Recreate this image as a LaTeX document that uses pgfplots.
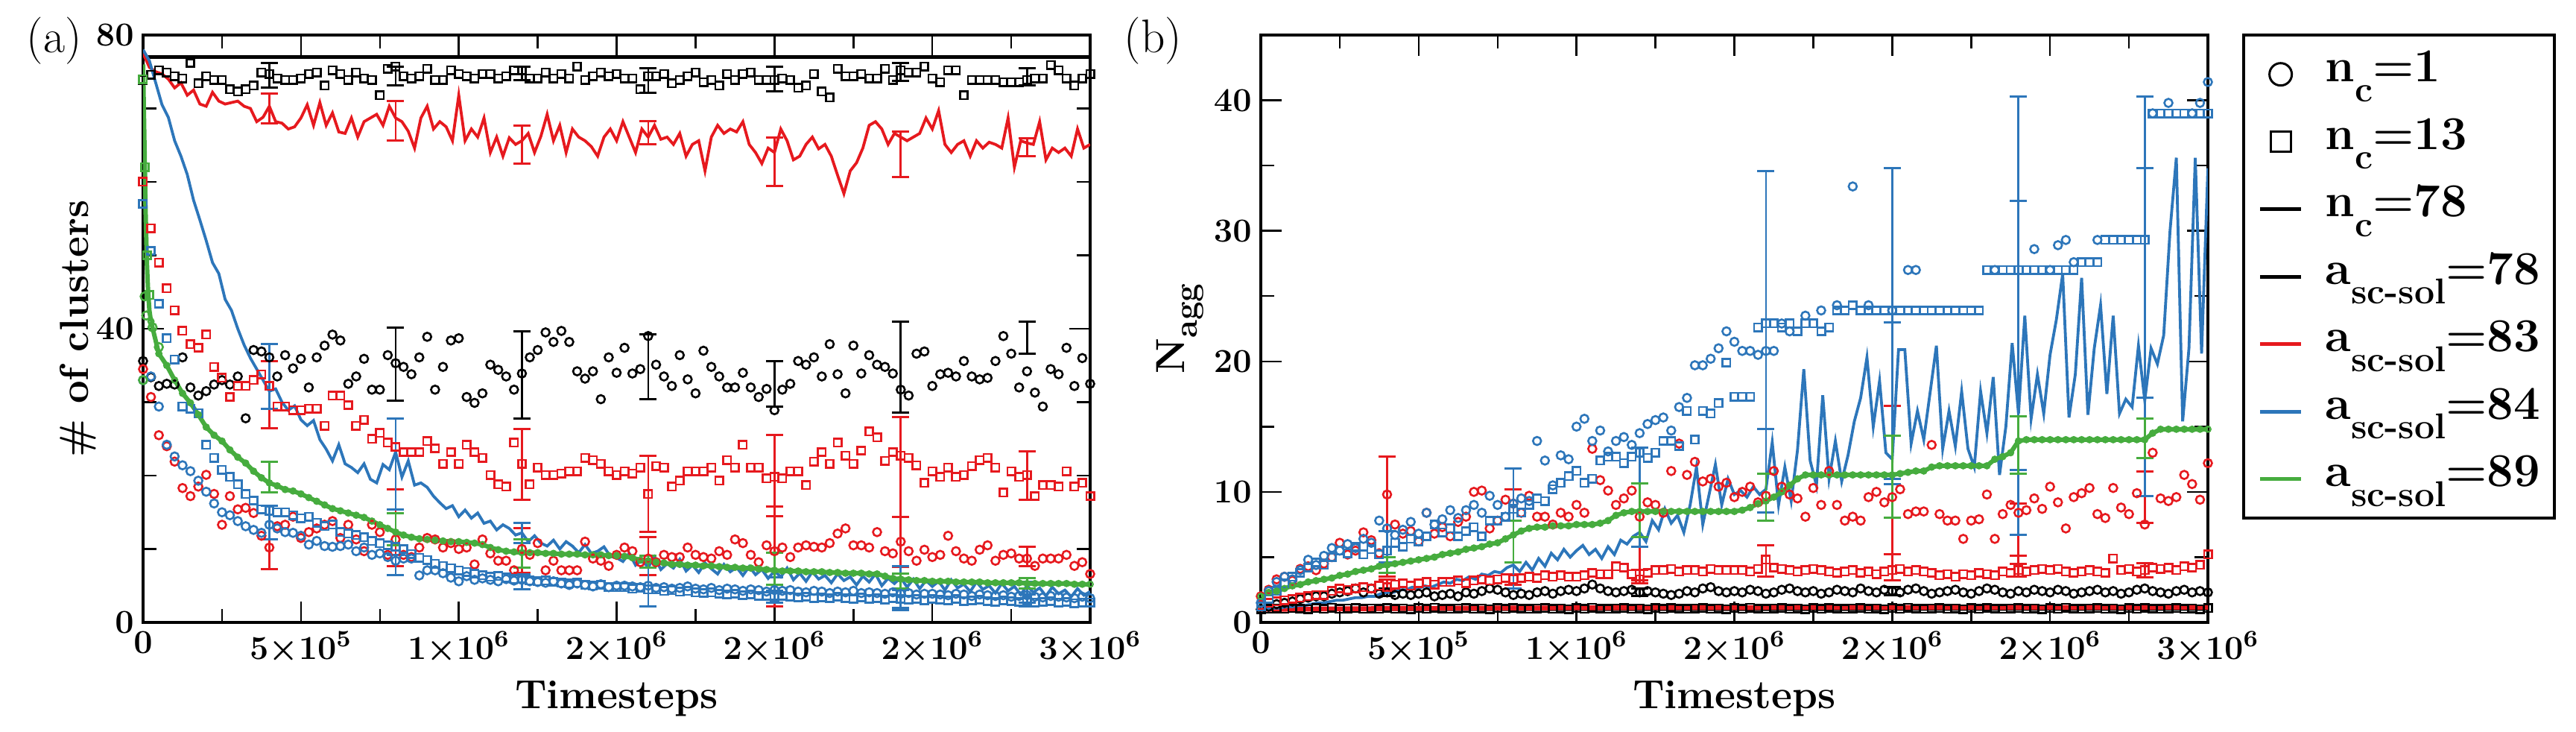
\RequirePackage{fix-cm}
\documentclass[border=0pt]{standalone}
\usepackage{pgfplots}
\usepackage{pgfplotstable}
\pgfplotsset{compat=1.18}

\definecolor{cred}{RGB}{230,25,30}
\definecolor{cblue}{RGB}{45,118,186}
\definecolor{cgreen}{RGB}{70,172,62}

\newcommand{\lsub}[1]{\raisebox{-0.42em}{\fontsize{13.7}{14}\selectfont #1}}

% (a) number of clusters, t in units of 1e6 timesteps
% bsq/bci: a=78, n_c=13/1; rsq/rci: a=83; bls/blc: a=84; grn: a=89
\pgfplotstableread{
t bsq bci rsq rci bls blc grn
0.000 73.9 35.6 60.0 34.5 57.0 33.0 nan
0.025 74.6 33.4 53.7 30.7 50.6 33.5 41.0
0.050 75.2 32.2 49.0 25.5 43.4 29.4 36.6
0.075 74.9 32.5 45.5 24.0 38.7 24.2 35.0
0.100 74.4 32.4 42.5 21.9 35.8 22.6 33.0
0.125 74.1 36.1 39.7 18.3 29.4 21.4 31.2
0.150 76.2 32.0 37.9 17.2 29.1 20.6 29.9
0.175 73.4 30.9 37.4 18.5 28.5 19.3 28.3
0.200 74.4 31.5 39.2 20.1 24.2 17.8 26.6
0.225 73.9 32.4 34.8 17.5 22.4 16.2 25.5
0.250 73.9 33.0 33.3 13.3 20.8 15.0 24.7
0.275 72.6 32.4 30.7 17.2 19.8 14.6 23.5
0.300 72.3 33.5 32.2 15.4 18.8 13.8 22.5
0.325 72.6 27.8 32.2 15.6 17.5 13.1 21.7
0.350 73.1 37.1 33.0 14.9 16.6 12.6 20.6
0.375 74.9 36.9 33.8 11.8 15.4 12.2 19.7
0.400 74.7 36.1 32.2 10.2 15.2 13.3 19.0
0.425 74.1 33.5 29.4 13.1 15.0 12.8 18.6
0.450 73.9 36.4 29.4 13.3 15.0 12.3 18.1
0.475 73.9 34.6 28.9 14.4 14.6 12.2 17.9
0.500 74.1 35.9 28.9 11.5 14.2 11.8 17.5
0.525 74.7 32.0 29.1 12.3 14.4 10.6 17.0
0.550 74.9 36.1 29.1 12.8 13.6 11.1 16.5
0.575 73.1 37.7 26.8 13.3 13.1 10.4 16.0
0.600 75.2 39.2 30.9 13.8 13.3 10.3 15.5
0.625 74.7 38.4 30.9 11.5 12.3 10.4 15.2
0.650 73.9 32.5 29.6 13.3 12.1 10.6 14.9
0.675 74.9 33.5 26.8 11.3 11.9 9.7 14.6
0.700 74.1 35.9 27.6 9.7 11.6 10.2 14.3
0.725 73.9 31.7 25.0 13.3 11.1 9.2 13.8
0.750 71.8 31.7 25.8 12.3 10.8 9.4 13.3
0.775 75.4 36.4 24.5 9.2 10.5 8.9 12.8
0.800 75.7 35.3 23.9 11.3 10.3 8.4 12.3
0.825 74.4 34.8 23.2 9.2 10.0 8.7 11.9
0.850 74.1 33.8 23.2 8.9 9.3 8.7 11.6
0.875 74.4 36.1 23.2 10.2 8.8 6.4 11.4
0.900 75.4 38.9 24.7 11.5 8.5 7.1 11.3
0.925 73.9 31.7 23.7 11.3 8.0 7.1 11.2
0.950 73.9 34.8 21.6 10.2 7.7 6.7 11.1
0.975 75.2 38.4 23.2 10.8 7.4 6.1 11.0
1.000 74.7 38.7 21.6 10.0 7.1 5.6 11.0
1.025 74.4 30.7 24.2 10.2 6.9 6.3 10.9
1.050 74.1 29.9 23.2 7.9 6.6 5.8 10.8
1.075 74.7 31.2 22.4 11.3 6.4 6.0 10.6
1.100 74.7 35.1 20.1 9.4 6.2 5.8 10.2
1.125 74.1 34.4 18.8 8.4 6.3 5.6 9.9
1.150 74.4 33.5 18.5 8.4 6.1 5.9 9.7
1.175 75.2 31.7 24.5 7.1 5.9 5.7 9.6
1.200 75.2 33.9 21.6 10.0 6.0 5.8 9.5
1.225 74.1 36.1 18.8 9.2 5.7 5.6 9.5
1.250 74.1 37.1 21.1 10.8 5.6 5.5 9.5
1.275 74.9 39.5 20.1 7.1 5.7 5.4 9.4
1.300 74.1 38.2 20.1 8.4 5.5 5.6 9.4
1.325 74.7 39.7 20.3 7.1 5.4 5.3 9.3
1.350 74.1 38.2 20.6 7.1 5.3 5.1 9.3
1.375 75.7 34.2 20.6 7.1 5.4 5.3 9.3
1.400 73.9 33.2 22.4 11.0 5.1 5.1 9.2
1.425 74.4 34.2 22.1 8.7 5.0 4.9 9.2
1.450 74.9 30.4 21.6 8.4 5.1 5.2 9.2
1.475 74.4 36.1 20.6 7.7 4.8 4.8 9.1
1.500 74.7 34.0 20.1 9.2 4.8 5.0 9.1
1.525 74.1 37.4 20.6 10.2 4.8 5.0 9.0
1.550 74.1 33.9 20.3 9.7 4.6 4.9 8.8
1.575 72.6 34.5 21.1 8.2 4.7 4.8 8.5
1.600 74.4 39.0 17.5 8.7 4.5 5.0 8.4
1.625 74.4 35.1 21.3 8.2 4.5 4.7 8.2
1.650 74.7 33.5 21.1 9.2 4.3 4.8 8.1
1.675 73.4 32.2 18.5 8.9 4.4 4.6 7.9
1.700 73.9 36.4 19.3 8.9 4.2 4.7 7.9
1.725 74.4 33.1 20.6 10.2 4.3 4.9 7.8
1.750 74.9 31.2 20.6 9.2 4.1 4.6 7.8
1.775 73.6 37.0 20.6 8.9 4.0 4.5 7.7
1.800 73.9 34.8 21.1 8.7 4.1 4.7 7.7
1.825 73.1 33.5 19.3 9.7 3.9 4.4 7.6
1.850 74.7 32.0 22.1 9.2 3.8 4.6 7.5
1.875 73.9 32.0 21.1 11.3 3.9 4.5 7.5
1.900 74.7 34.0 24.2 10.8 3.7 4.3 7.4
1.925 74.9 32.0 21.1 9.2 3.8 4.5 7.4
1.950 73.9 30.7 21.1 8.2 3.6 4.4 7.3
1.975 73.9 31.8 19.6 10.5 3.6 4.2 7.2
2.000 73.9 28.9 19.8 9.7 3.5 4.4 7.1
2.025 74.1 31.7 19.6 10.2 3.6 4.3 7.0
2.050 73.9 32.5 20.6 8.9 3.5 4.4 7.0
2.075 72.8 35.6 20.6 10.2 3.4 4.2 7.0
2.100 73.1 35.1 18.7 10.5 3.5 4.1 6.9
2.125 74.7 36.1 21.9 10.3 3.3 4.3 6.9
2.150 72.3 33.5 23.2 10.2 3.4 4.2 6.9
2.175 71.5 37.9 21.6 10.8 3.3 4.0 6.8
2.200 75.4 33.8 24.5 12.1 3.5 4.2 6.8
2.225 74.4 31.2 22.7 12.8 3.3 4.1 6.7
2.250 74.4 37.7 21.6 10.5 3.2 4.3 6.7
2.275 74.7 33.9 23.4 10.5 3.4 4.0 6.7
2.300 74.1 36.4 26.0 10.2 3.2 4.1 6.6
2.325 74.1 35.1 25.2 12.3 3.3 4.0 6.6
2.350 75.4 34.8 22.0 9.7 3.1 3.9 6.3
2.375 73.9 33.9 23.2 9.4 3.3 4.1 6.0
2.400 75.2 31.7 22.7 11.0 3.2 3.9 5.9
2.425 74.9 30.9 22.4 9.7 3.1 4.0 5.8
2.450 74.9 36.6 21.4 8.4 3.2 3.8 5.7
2.475 75.7 36.9 19.0 9.9 3.0 3.9 5.7
2.500 74.1 32.2 20.6 8.9 3.2 3.9 5.6
2.525 73.6 33.8 19.8 9.2 3.1 3.8 5.6
2.550 75.2 34.0 21.1 11.8 3.0 3.7 5.6
2.575 75.2 33.5 19.8 9.7 3.2 3.9 5.5
2.600 71.8 35.6 20.1 8.7 2.9 3.8 5.5
2.625 73.9 33.5 21.3 8.4 3.0 3.6 5.5
2.650 73.9 33.1 22.1 9.9 3.1 3.8 5.5
2.675 73.9 33.3 22.4 10.5 2.9 3.7 5.4
2.700 73.9 35.6 21.1 8.4 2.8 3.6 5.4
2.725 73.6 39.0 17.7 9.2 3.0 3.7 5.4
2.750 73.6 36.6 20.6 9.4 2.9 3.5 5.4
2.775 73.6 32.0 19.8 8.7 2.8 3.6 5.4
2.800 73.9 34.2 20.1 8.7 3.0 3.7 5.3
2.825 74.1 31.3 17.2 7.7 2.7 3.5 5.3
2.850 74.1 29.4 18.7 8.7 2.8 3.4 5.3
2.875 75.9 34.5 18.7 8.7 2.9 3.6 5.3
2.900 75.2 33.8 18.5 8.7 2.7 3.5 5.3
2.925 74.1 37.4 20.6 9.2 2.8 3.4 5.3
2.950 73.1 32.2 18.5 7.7 2.6 3.3 5.2
2.975 74.1 36.0 19.0 8.2 2.7 3.5 5.2
3.000 74.7 32.5 17.2 6.6 2.7 3.3 5.2
}\tabA

% (b) aggregation number, same column layout
\pgfplotstableread{
t bsq bci rsq rci bls blc grn
0.000 1.00 1.0 1.3 2.0 1.2 1.5 2.0
0.025 1.05 1.2 1.5 2.5 1.8 2.4 2.3
0.050 1.08 1.4 1.6 3.3 2.4 3.1 2.4
0.075 1.03 1.5 1.7 3.5 3.0 3.5 2.6
0.100 1.10 1.6 1.8 3.2 3.5 3.3 2.8
0.125 1.06 1.8 1.9 4.1 3.8 4.0 2.9
0.150 1.02 1.9 2.0 4.3 4.2 4.8 3.1
0.175 1.09 2.0 2.1 4.0 4.6 4.4 3.2
0.200 1.05 2.0 2.1 4.5 4.4 5.1 3.3
0.225 1.12 2.2 2.4 5.0 5.0 5.7 3.4
0.250 1.04 2.3 2.6 6.1 5.5 5.5 3.6
0.275 1.07 2.4 2.5 5.2 5.3 6.0 3.7
0.300 1.10 2.6 2.6 5.5 5.8 5.7 3.9
0.325 1.03 2.3 2.7 6.9 5.2 6.4 4.0
0.350 1.08 2.6 2.6 6.3 5.6 6.1 4.1
0.375 1.05 2.2 2.8 5.3 5.2 7.8 4.3
0.400 1.11 2.3 2.7 9.8 5.5 7.2 4.4
0.425 1.04 2.1 2.9 7.5 6.1 6.7 4.5
0.450 1.07 2.2 3.0 6.8 5.8 7.1 4.6
0.475 1.02 2.1 2.8 7.0 6.4 7.7 4.7
0.500 1.09 2.2 3.0 6.2 6.2 6.8 4.8
0.525 1.05 2.3 3.1 8.4 6.6 8.4 4.9
0.550 1.12 2.0 2.9 6.8 7.5 7.5 5.0
0.575 1.06 2.1 3.1 7.3 6.9 7.9 5.2
0.600 1.03 2.2 3.1 6.6 7.2 8.6 5.3
0.625 1.08 2.0 3.2 7.7 6.6 8.0 5.4
0.650 1.10 2.3 3.0 8.1 7.0 8.6 5.6
0.675 1.04 2.2 3.2 10.0 7.3 9.0 5.7
0.700 1.07 2.4 3.3 10.1 6.6 8.4 5.8
0.725 1.02 2.6 3.2 7.2 7.8 9.7 6.0
0.750 1.09 2.5 3.3 7.8 7.8 9.0 6.1
0.775 1.05 2.3 3.4 9.4 8.1 8.1 6.4
0.800 1.11 2.1 3.3 9.1 8.7 9.1 6.7
0.825 1.06 2.2 3.4 8.4 8.4 9.5 7.0
0.850 1.03 2.1 3.5 9.7 9.0 9.3 7.2
0.875 1.08 2.3 3.4 8.1 9.5 13.9 7.3
0.900 1.10 2.4 3.6 8.1 9.3 12.4 7.3
0.925 1.04 2.2 3.5 7.5 10.2 10.5 7.4
0.950 1.07 2.4 3.6 8.4 10.7 12.8 7.4
0.975 1.02 2.5 3.5 8.1 11.2 12.5 7.4
1.000 1.09 2.4 3.5 9.0 11.6 15.0 7.5
1.025 1.05 2.6 3.6 8.4 10.7 15.6 7.5
1.050 1.12 2.9 3.8 13.3 11.0 13.9 7.5
1.075 1.06 2.6 3.7 10.9 12.4 14.7 7.6
1.100 1.03 2.4 3.7 10.1 12.7 13.1 7.8
1.125 1.08 2.3 4.3 9.0 12.7 13.9 8.2
1.150 1.10 2.4 4.2 9.5 12.2 14.2 8.4
1.175 1.04 2.5 3.7 10.1 12.7 13.6 8.5
1.200 1.07 2.3 3.3 8.1 13.0 14.5 8.5
1.225 1.02 2.4 3.8 9.2 12.6 15.2 8.5
1.250 1.09 2.3 4.0 9.0 13.0 15.5 8.5
1.275 1.05 2.2 4.0 8.4 13.9 15.7 8.5
1.300 1.11 2.1 4.1 11.6 13.9 14.7 8.5
1.325 1.06 2.2 3.9 13.7 13.5 16.5 8.5
1.350 1.03 2.4 4.0 11.3 16.2 17.2 8.5
1.375 1.08 2.3 4.0 12.3 14.0 19.7 8.5
1.400 1.10 2.6 3.9 10.8 16.2 19.7 8.5
1.425 1.04 2.7 4.1 11.0 16.0 20.2 8.5
1.450 1.07 2.4 4.0 10.4 16.8 21.0 8.5
1.475 1.02 2.3 4.0 10.7 19.9 22.3 8.5
1.500 1.09 2.4 4.0 9.6 17.3 21.5 8.5
1.525 1.05 2.3 4.0 10.0 17.3 20.8 8.6
1.550 1.12 2.5 3.9 10.4 17.3 20.8 8.8
1.575 1.06 2.4 4.1 9.2 22.6 20.5 9.1
1.600 1.03 2.2 4.8 9.7 22.9 20.8 9.3
1.625 1.08 2.3 4.2 11.6 22.9 20.8 9.6
1.650 1.10 2.5 4.1 10.4 22.6 22.9 10.0
1.675 1.04 2.6 4.0 9.8 22.9 22.3 10.5
1.700 1.07 2.4 3.9 9.5 22.3 nan 11.0
1.725 1.02 2.3 4.0 8.1 22.9 23.5 11.3
1.750 1.09 2.4 4.1 10.3 22.9 nan 11.3
1.775 1.05 2.2 4.0 9.0 22.3 23.9 11.3
1.800 1.11 2.3 3.9 11.6 22.6 nan 11.3
1.825 1.06 2.5 3.8 9.0 23.9 24.3 11.3
1.850 1.03 2.4 3.9 7.8 23.9 nan 11.3
1.875 1.08 2.3 4.0 8.1 24.3 33.4 11.3
1.900 1.10 2.6 3.8 7.8 23.9 nan 11.3
1.925 1.04 2.4 3.9 9.6 23.9 24.3 11.3
1.950 1.07 2.3 3.7 10.0 23.9 nan 11.3
1.975 1.02 2.5 3.9 9.2 23.9 nan 11.3
2.000 1.09 2.4 4.0 9.6 23.9 23.9 11.3
2.025 1.05 2.3 4.1 10.2 23.9 nan 11.4
2.050 1.12 2.5 3.9 8.3 23.9 27.0 11.5
2.075 1.06 2.6 4.0 8.5 23.9 27.0 11.6
2.100 1.03 2.4 3.9 8.5 23.9 nan 11.6
2.125 1.08 2.2 3.8 13.6 23.9 nan 11.9
2.150 1.10 2.3 3.6 8.3 23.9 nan 12.0
2.175 1.04 2.4 3.7 7.8 23.9 nan 12.0
2.200 1.07 2.5 3.5 7.8 23.9 nan 12.0
2.225 1.02 2.3 3.7 6.4 23.9 nan 12.0
2.250 1.09 2.2 3.6 7.8 23.9 nan 12.0
2.275 1.05 2.4 3.8 7.9 23.9 nan 12.0
2.300 1.11 2.6 3.7 9.8 27.0 nan 12.0
2.325 1.06 2.5 3.6 6.4 27.0 27.0 12.5
2.350 1.03 2.3 3.9 8.3 27.0 nan 12.7
2.375 1.08 2.2 3.8 9.0 27.0 nan 13.0
2.400 1.10 2.4 4.0 8.4 27.0 nan 13.9
2.425 1.04 2.3 3.9 8.6 27.0 nan 14.0
2.450 1.07 2.5 4.0 9.5 27.0 28.6 14.0
2.475 1.02 2.4 4.1 8.7 27.0 nan 14.0
2.500 1.09 2.3 4.0 10.4 27.0 27.0 14.0
2.525 1.05 2.5 4.1 9.2 27.0 28.9 14.0
2.550 1.12 2.4 3.9 7.2 27.0 29.3 14.0
2.575 1.06 2.2 3.8 9.6 27.0 27.6 14.0
2.600 1.03 2.3 3.9 9.9 27.6 nan 14.0
2.625 1.08 2.4 4.0 10.3 27.6 nan 14.0
2.650 1.10 2.5 3.9 8.3 27.6 29.3 14.0
2.675 1.04 2.3 3.8 8.0 29.3 nan 14.0
2.700 1.07 2.4 4.9 10.3 29.3 nan 14.0
2.725 1.02 2.2 4.0 8.8 29.3 nan 14.0
2.750 1.09 2.3 4.1 8.3 29.3 nan 14.0
2.775 1.05 2.5 3.9 9.9 29.3 nan 14.0
2.800 1.11 2.6 4.0 7.5 29.3 nan 14.0
2.825 1.06 2.4 4.2 13.0 39.0 39.0 14.5
2.850 1.03 2.3 4.1 9.5 39.0 nan 14.8
2.875 1.08 2.2 4.2 9.3 39.0 39.8 14.8
2.900 1.10 2.4 4.0 9.6 39.0 nan 14.8
2.925 1.04 2.5 4.3 11.3 39.0 nan 14.8
2.950 1.07 2.3 4.2 10.6 39.0 39.0 14.8
2.975 1.02 2.4 4.4 9.4 39.0 39.8 14.8
3.000 1.09 2.3 5.2 12.2 39.0 41.4 14.8
}\tabB

% n_c=78 runs, finer sampling: ra = a83 (a), ba = a84 (a), bb = a84 (b)
\pgfplotstableread{
t ra ba bb
0.00 77.5 78.0 1.0
0.02 75.6 76.5 1.0
0.04 75.0 73.5 1.1
0.06 74.7 70.5 1.1
0.08 74.0 68.8 1.2
0.10 72.8 65.6 1.2
0.12 73.5 63.5 1.3
0.14 71.8 61.0 1.3
0.16 72.5 57.5 1.4
0.18 70.6 54.8 1.5
0.20 70.3 52.0 1.5
0.22 72.2 49.0 1.6
0.24 71.0 47.5 1.7
0.26 70.6 44.0 1.7
0.28 70.8 42.5 1.8
0.30 71.0 40.0 1.9
0.32 70.3 37.8 1.9
0.34 70.0 36.0 2.0
0.36 68.2 34.5 2.0
0.38 68.8 33.0 2.2
0.40 70.3 31.5 2.3
0.42 68.2 31.8 2.3
0.44 68.0 30.0 2.5
0.46 67.2 28.9 2.5
0.48 67.5 29.5 2.7
0.50 68.7 27.6 2.6
0.52 70.5 26.8 2.8
0.54 67.7 27.5 2.7
0.56 70.8 24.9 2.9
0.58 67.7 23.6 3.1
0.60 69.4 22.0 3.0
0.62 66.8 24.2 3.3
0.64 66.6 21.6 3.2
0.66 68.7 21.1 3.5
0.68 66.1 20.4 3.3
0.70 68.2 21.6 3.7
0.72 68.7 19.5 3.6
0.74 69.2 19.0 3.9
0.76 67.7 21.5 3.8
0.78 70.3 20.8 4.2
0.80 68.7 23.2 4.4
0.82 68.2 19.8 3.9
0.84 66.9 22.0 4.6
0.86 64.6 18.7 4.0
0.88 68.7 19.0 4.9
0.90 70.3 18.4 4.3
0.92 67.2 17.2 5.3
0.94 68.2 16.3 4.8
0.96 67.5 15.5 5.6
0.98 65.6 15.9 5.0
1.00 71.8 14.4 5.5
1.02 65.6 15.3 5.9
1.04 67.2 14.2 5.2
1.06 66.1 14.9 5.6
1.08 68.7 13.5 4.9
1.10 64.0 13.8 5.8
1.12 66.1 12.6 5.2
1.14 63.5 13.3 6.3
1.16 66.0 12.8 6.0
1.18 65.1 11.9 6.6
1.20 65.6 12.2 6.9
1.22 66.6 11.0 6.2
1.24 64.0 11.8 7.8
1.26 66.2 10.8 7.1
1.28 69.2 10.4 8.7
1.30 65.6 11.2 7.6
1.32 67.7 10.0 8.2
1.34 64.0 11.0 6.9
1.36 67.2 10.4 9.0
1.38 66.1 9.5 11.9
1.40 65.6 10.6 7.5
1.42 64.8 9.4 9.8
1.44 63.5 9.7 12.1
1.46 66.1 10.3 9.0
1.48 67.2 9.0 11.0
1.50 65.6 8.8 9.8
1.52 68.2 8.3 10.1
1.54 66.1 9.4 9.6
1.56 64.0 7.8 10.4
1.58 67.2 8.5 9.8
1.60 66.1 7.5 10.2
1.62 67.7 8.9 13.8
1.64 65.8 7.2 9.0
1.66 66.1 8.0 11.9
1.68 65.1 7.4 9.3
1.70 66.6 8.6 13.2
1.72 63.5 7.0 19.4
1.74 65.1 7.8 12.4
1.76 65.6 6.8 10.5
1.78 61.5 8.1 17.4
1.80 66.1 7.3 11.0
1.82 67.7 6.6 13.9
1.84 66.6 7.9 10.8
1.86 67.2 6.9 12.8
1.88 66.8 7.5 15.4
1.90 68.2 6.4 17.2
1.92 65.1 7.6 20.3
1.94 64.0 6.5 15.0
1.96 62.5 7.2 18.5
1.98 64.6 6.0 13.0
2.00 64.0 7.0 12.5
2.02 67.2 6.2 20.9
2.04 65.6 7.4 20.9
2.06 63.0 5.8 13.7
2.08 63.5 6.7 16.2
2.10 65.1 5.6 14.0
2.12 66.1 6.9 17.6
2.14 64.5 5.9 21.2
2.16 65.1 6.4 13.3
2.18 63.5 5.4 16.2
2.20 60.9 6.6 13.5
2.22 58.4 5.7 17.7
2.24 61.5 6.2 13.3
2.26 62.6 5.1 11.9
2.28 64.6 6.3 17.7
2.30 67.7 5.5 14.5
2.32 68.2 6.6 18.8
2.34 67.2 5.0 11.3
2.36 65.1 6.0 15.0
2.38 66.6 5.3 21.4
2.40 66.1 6.1 16.0
2.42 65.6 4.8 23.5
2.44 66.1 5.9 15.6
2.46 66.6 4.6 19.0
2.48 68.7 5.7 16.0
2.50 67.2 4.9 20.5
2.52 69.7 5.6 23.2
2.54 65.1 4.4 26.7
2.56 64.0 5.8 15.7
2.58 65.1 4.7 19.0
2.60 65.6 5.2 26.4
2.62 63.5 4.2 15.9
2.64 65.6 5.5 21.0
2.66 64.6 4.5 24.3
2.68 65.4 5.0 17.5
2.70 65.1 4.0 23.5
2.72 64.6 5.3 16.0
2.74 68.7 4.3 17.1
2.76 62.0 4.9 16.5
2.78 65.6 3.8 21.2
2.80 65.3 5.0 17.0
2.82 65.1 4.1 21.0
2.84 68.2 4.7 19.8
2.86 63.0 3.6 22.0
2.88 64.6 4.8 30.0
2.90 64.0 3.9 35.6
2.92 64.6 4.4 15.4
2.94 63.5 3.5 21.0
2.96 67.2 4.6 35.6
2.98 64.6 3.7 20.6
3.00 65.1 4.2 34.8
}\tabF

\pgfplotsset{
  panel/.style={
    scale only axis, width=127.1mm, height=78.8mm,
    xmin=0, xmax=3,
    axis line style={line width=0.4mm},
    tick style={line width=0.25mm, black},
    tick align=inside, major tick length=2.8mm, minor tick length=1.8mm,
    xtick={0,0.5,1,1.5,2,2.5,3},
    minor xtick={0.25,0.75,1.25,1.75,2.25,2.75},
    xticklabels={$0$,$5{\times}10^{5}$,$1{\times}10^{6}$,$2{\times}10^{6}$,$2{\times}10^{6}$,$2{\times}10^{6}$,$3{\times}10^{6}$},
    tick label style={font=\fontsize{12.8}{14}\selectfont\boldmath},
    label style={font=\fontsize{15.5}{18}\selectfont\bfseries},
    xlabel={Timesteps},
    xlabel style={at={(axis description cs:0.5,-0.146)}, anchor=base},
  },
  mkc/.style={forget plot, only marks, mark=o, mark size=0.55mm, mark options={line width=0.26mm}},
  mks/.style={forget plot, only marks, mark=square, mark size=0.52mm, mark options={line width=0.26mm}},
  noisy/.style={forget plot, no markers, line width=0.38mm},
  % error bars only: the plotted mark itself is a zero-length dash
  ebar/.style={forget plot, only marks, mark=-, mark size=0pt,
    mark options={line cap=butt},
    error bars/y dir=both, error bars/y explicit,
    error bars/error bar style={line width=0.27mm},
    error bars/error mark options={rotate=90, mark size=1.15mm, line width=0.3mm}},
  lgline/.style={legend image code/.code={\draw[##1] (0mm,0mm) -- (5.5mm,0mm);}},
  lgmark/.style={legend image code/.code={\draw[mark repeat=2,mark phase=2,##1] plot coordinates {(0mm,0mm) (2.75mm,0mm) (5.5mm,0mm)};}},
}

\begin{document}
\begin{tikzpicture}
\path[use as bounding box] (0,0) rectangle (345.7mm,98.2mm);

% ---------------- (a) ----------------
\begin{axis}[panel, at={(19.2mm,14.7mm)}, anchor=south west,
  ymin=0, ymax=80, ytick={0,40,80}, minor ytick={10,20,30,50,60,70},
  ylabel={\# of clusters},
  ylabel style={at={(axis description cs:-0.0582,0.5)}, anchor=base}]
  % a = 78
  \addplot[mks, black] table[x=t, y=bsq]{\tabA};
  \addplot[mkc, black] table[x=t, y=bci]{\tabA};
  \addplot[forget plot, black, line width=0.45mm] coordinates {(0,77) (3,77)};
  \addplot[black, ebar] coordinates {
    (0.4,74.5) +- (0,1.7) (0.8,74.4) +- (0,1.3) (1.2,74.8) +- (0,0.9)
    (1.6,73.8) +- (0,1.7) (2.0,74.0) +- (0,1.7) (2.4,75.0) +- (0,1.2)
    (2.8,74.3) +- (0,1.2)
    (0.8,35.2) +- (0,5.0) (1.2,33.7) +- (0,5.9) (1.6,34.8) +- (0,4.4)
    (2.0,32.5) +- (0,3.1) (2.4,34.8) +- (0,6.2) (2.8,38.8) +- (0,2.2)};
  % a = 83
  \addplot[noisy, cred] table[x=t, y=ra]{\tabF};
  \addplot[mks, cred] table[x=t, y=rsq]{\tabA};
  \addplot[mkc, cred] table[x=t, y=rci]{\tabA};
  \addplot[cred, ebar] coordinates {
    (0.4,70.0) +- (0,2.0) (0.8,68.3) +- (0,2.7) (1.2,65.1) +- (0,2.6)
    (1.6,66.7) +- (0,1.6) (2.0,62.7) +- (0,3.3) (2.4,63.8) +- (0,3.1)
    (2.8,64.7) +- (0,1.2)
    (0.4,31.0) +- (0,4.6) (1.2,21.5) +- (0,4.8) (1.6,17.5) +- (0,5.2)
    (2.0,20.0) +- (0,5.5) (2.4,21.2) +- (0,6.8) (2.8,20.0) +- (0,3.3)
    (0.4,11.6) +- (0,4.3) (0.8,12.9) +- (0,5.2) (1.2,9.8) +- (0,3.0)
    (1.6,9.0) +- (0,2.6) (2.0,9.0) +- (0,6.8) (2.4,11.0) +- (0,3.4)
    (2.8,9.0) +- (0,1.3)};
  % a = 84
  \addplot[noisy, cblue] table[x=t, y=ba]{\tabF};
  \addplot[mks, cblue] table[x=t, y=bls]{\tabA};
  \addplot[mkc, cblue] table[x=t, y=blc]{\tabA};
  \addplot[cblue, ebar] coordinates {
    (0.4,33.5) +- (0,4.4) (0.8,21.6) +- (0,6.2) (1.2,12.2) +- (0,1.4)
    (1.6,5.2) +- (0,3.0) (2.0,4.6) +- (0,1.5) (2.4,4.7) +- (0,3.0)
    (2.8,4.1) +- (0,1.4)
    (0.4,13.6) +- (0,2.3) (0.8,7.8) +- (0,1.4) (1.2,5.5) +- (0,1.0)
    (2.0,3.5) +- (0,0.8) (2.4,3.2) +- (0,1.2) (2.8,3.0) +- (0,0.8)};
  % a = 89
  \addplot[forget plot, cgreen, line width=0.6mm] coordinates {
    (0,76) (0.004,66) (0.008,56) (0.012,49) (0.016,45) (0.02,42.5) (0.025,41)};
  \addplot[forget plot, cgreen, line width=0.6mm, mark=o, mark size=0.38mm,
    mark options={line width=0.22mm}] table[x=t, y=grn]{\tabA};
  \addplot[mkc, cgreen] coordinates {(0,33.0) (0.005,44.4) (0.01,41.8) (0.03,40.2) (0.05,37.5)};
  \addplot[mks, cgreen] coordinates {(0,74.0) (0.006,62.0) (0.012,50.0) (0.02,44.6)};
  \addplot[cgreen, ebar] coordinates {
    (0.4,19.8) +- (0,2.1) (0.8,12.7) +- (0,2.2) (1.2,9.4) +- (0,1.95)
    (1.6,8.3) +- (0,0.8) (2.0,7.3) +- (0,2.2) (2.4,5.6) +- (0,1.0)
    (2.8,5.3) +- (0,0.7)};
\end{axis}

% ---------------- (b) ----------------
\begin{axis}[panel, at={(169.2mm,14.7mm)}, anchor=south west,
  ymin=0, ymax=45, ytick={0,10,20,30,40}, minor ytick={5,15,25,35},
  ylabel={N\raisebox{-0.32em}{\fontsize{12.5}{13}\selectfont agg}},
  ylabel style={at={(axis description cs:-0.081,0.5)}, anchor=base},
  legend style={at={(axis description cs:1.0377,1)}, anchor=north west,
    draw=none, fill=none, inner xsep=1.9mm, inner ysep=1.8mm,
    row sep=0pt, column sep=3mm,
    font=\fontsize{18}{20}\selectfont\bfseries,
    cells={anchor=base west},
    nodes={inner sep=0pt, text height=4.4mm, text depth=4.65mm}},
  legend image post style={yshift=1.0mm}]
  % a = 78
  \addplot[mks, black] table[x=t, y=bsq]{\tabB};
  \addplot[mkc, black] table[x=t, y=bci]{\tabB};
  \addplot[forget plot, black, line width=0.45mm] coordinates {(0,1.0) (3,1.02)};
  \addplot[black, ebar] coordinates {(0.4,2.3) +- (0,0.3) (1.2,2.3) +- (0,0.3) (2.0,2.4) +- (0,0.3)};
  % a = 83
  \addplot[forget plot, cred, line width=0.65mm] coordinates {
    (0,1.0) (0.5,1.08) (1,1.12) (1.5,1.14) (2,1.15) (2.5,1.15) (3,1.16)};
  \addplot[mks, cred] table[x=t, y=rsq]{\tabB};
  \addplot[mkc, cred] table[x=t, y=rci]{\tabB};
  \addplot[cred, ebar] coordinates {
    (0.4,8.1) +- (0,4.6) (0.8,7.4) +- (0,2.8) (1.2,8.3) +- (0,5.1)
    (2.0,9.9) +- (0,6.7) (2.4,6.8) +- (0,2.3) (2.8,9.6) +- (0,1.95)
    (0.4,2.9) +- (0,0.4) (0.8,3.3) +- (0,0.4) (1.2,3.5) +- (0,0.5)
    (1.6,4.7) +- (0,1.2) (2.0,4.2) +- (0,1.0) (2.4,4.3) +- (0,0.8)
    (2.8,4.0) +- (0,0.55)};
  % a = 84
  \addplot[noisy, cblue] table[x=t, y=bb]{\tabF};
  \addplot[mks, cblue] table[x=t, y=bls]{\tabB};
  \addplot[mkc, cblue] table[x=t, y=blc]{\tabB};
  \addplot[cblue, ebar] coordinates {
    (0.4,5.8) +- (0,1.2) (0.8,7.2) +- (0,4.6) (1.2,9.6) +- (0,3.8)
    (1.6,21.2) +- (0,13.4) (2.0,22.7) +- (0,12.1) (2.4,23.5) +- (0,16.8)
    (2.8,25.0) +- (0,15.3)
    (1.6,11.6) +- (0,3.2) (2.0,17.0) +- (0,6.0) (2.4,22.0) +- (0,10.3)
    (2.8,26.0) +- (0,8.8)};
  % a = 89
  \addplot[forget plot, cgreen, line width=0.6mm, mark=o, mark size=0.38mm,
    mark options={line width=0.22mm}] table[x=t, y=grn]{\tabB};
  \addplot[cgreen, ebar] coordinates {
    (0.4,4.4) +- (0,0.6) (0.8,6.2) +- (0,1.6) (1.2,8.6) +- (0,2.05)
    (1.6,9.6) +- (0,1.8) (2.0,11.15) +- (0,3.15) (2.4,13.6) +- (0,2.2)
    (2.8,14.1) +- (0,1.5)};

  % legend
  \addlegendimage{black, only marks, mark=o, mark size=1.5mm, mark options={line width=0.3mm}, lgmark}
  \addlegendentry{n\lsub{c}=1}
  \addlegendimage{black, only marks, mark=square, mark size=1.35mm, mark options={line width=0.3mm}, lgmark}
  \addlegendentry{n\lsub{c}=13}
  \addlegendimage{black, line width=0.5mm, lgline}
  \addlegendentry{n\lsub{c}=78}
  \addlegendimage{black, line width=0.5mm, lgline}
  \addlegendentry{a\lsub{sc-sol}=78}
  \addlegendimage{cred, line width=0.5mm, lgline}
  \addlegendentry{a\lsub{sc-sol}=83}
  \addlegendimage{cblue, line width=0.5mm, lgline}
  \addlegendentry{a\lsub{sc-sol}=84}
  \addlegendimage{cgreen, line width=0.5mm, lgline}
  \addlegendentry{a\lsub{sc-sol}=89}
\end{axis}

\draw[line width=0.4mm] (301.1mm,28.7mm) rectangle (342.8mm,93.5mm);
\node[anchor=west, inner sep=0pt, font=\fontsize{18}{20}\selectfont] at (3.5mm,92.7mm) {(a)};
\node[anchor=west, inner sep=0pt, font=\fontsize{18}{20}\selectfont] at (150.8mm,92.7mm) {(b)};
\end{tikzpicture}
\end{document}
